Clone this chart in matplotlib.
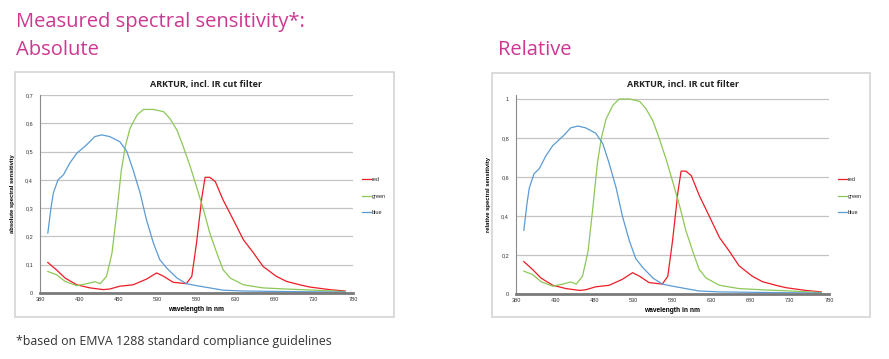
import matplotlib
matplotlib.use("Agg")
import matplotlib.pyplot as plt
from matplotlib.patches import Rectangle
import numpy as np

# ---------------- data (absolute spectral sensitivity) ----------------
blue_wl = [390, 394, 397, 403, 410, 418, 427, 440, 450, 459, 469, 482, 491, 499,
           508, 516, 525, 533, 542, 555, 567, 580, 597, 614, 640, 700, 770]
blue_abs = [0.212, 0.300, 0.353, 0.400, 0.418, 0.459, 0.494, 0.525, 0.553, 0.559,
            0.553, 0.535, 0.500, 0.435, 0.353, 0.259, 0.176, 0.118, 0.088, 0.053,
            0.033, 0.026, 0.018, 0.010, 0.007, 0.005, 0.003]

green_wl = [390, 401, 412, 427, 440, 450, 457, 465, 472, 478, 484, 489, 495, 504,
            512, 525, 538, 546, 555, 563, 572, 580, 589, 597, 606, 614, 623, 640,
            665, 695, 730, 770]
green_abs = [0.076, 0.065, 0.041, 0.026, 0.033, 0.040, 0.033, 0.059, 0.141, 0.282,
             0.435, 0.518, 0.582, 0.629, 0.649, 0.649, 0.641, 0.617, 0.576, 0.518,
             0.447, 0.376, 0.294, 0.212, 0.141, 0.082, 0.053, 0.029, 0.018, 0.014,
             0.010, 0.005]

red_wl = [390, 401, 412, 427, 444, 461, 469, 482, 499, 516, 529, 538, 550, 567,
          574, 580, 587, 591, 597, 604, 614, 627, 640, 653, 665, 682, 695, 712,
          725, 750, 770]
red_abs = [0.108, 0.082, 0.053, 0.029, 0.018, 0.012, 0.014, 0.024, 0.029, 0.049,
           0.071, 0.059, 0.038, 0.033, 0.059, 0.176, 0.341, 0.409, 0.409, 0.394,
           0.329, 0.259, 0.188, 0.141, 0.094, 0.059, 0.041, 0.029, 0.021, 0.012,
           0.007]

series_names = ["red", "green", "blue"]
series_colors = ["#ee1c25", "#8cc857", "#5b9bd5"]

x_ticks = [380, 430, 480, 530, 580, 630, 680, 730, 780]
abs_yticks = [0, 0.1, 0.2, 0.3, 0.4, 0.5, 0.6, 0.7]
abs_ylabels = ["0", "0,1", "0,2", "0,3", "0,4", "0,5", "0,6", "0,7"]
rel_yticks = [0, 0.2, 0.4, 0.6, 0.8, 1.0]
rel_ylabels = ["0", "0,2", "0,4", "0,6", "0,8", "1"]

# relative = normalised to the green maximum
peak = max(green_abs)
red_rel = [v / peak for v in red_abs]
green_rel = [v / peak for v in green_abs]
blue_rel = [v / peak for v in blue_abs]

W, H = 889, 359
fig = plt.figure(figsize=(W / 100, H / 100), dpi=100)
fig.patch.set_facecolor("white")

def fx(x):
    return x / W

def fy(y):
    return 1 - y / H

pink = "#cd3791"
head_font = ["Open Sans", "DejaVu Sans"]
fig.text(fx(16), fy(27), "Measured spectral sensitivity*:", color=pink, fontsize=14.5,
         family=head_font, va="baseline", ha="left")
fig.text(fx(16), fy(55), "Absolute", color=pink, fontsize=14.5,
         family=head_font, va="baseline", ha="left")
fig.text(fx(498), fy(55), "Relative", color=pink, fontsize=14.5,
         family=head_font, va="baseline", ha="left")
fig.text(fx(16), fy(341), "*based on EMVA 1288 standard compliance guidelines",
         color="#333333", fontsize=8.9, family=head_font, va="center", ha="left")

# chart frames
for (x0, y0, x1, y1) in [(15, 72, 394, 317), (492, 73, 870, 317)]:
    fig.patches.append(Rectangle((fx(x0), fy(y1)), fx(x1) - fx(x0), fy(y0) - fy(y1),
                                 transform=fig.transFigure, fill=False,
                                 edgecolor="#d4d4d4", lw=1.2))

tick_font = ["Liberation Sans", "DejaVu Sans"]

def make_chart(ax_rect, series, yticks, ylabels, ylim, ylabel, title_x, legend_x):
    ax = fig.add_axes(ax_rect)
    for (wl, vals), name, col in zip(series, series_names, series_colors):
        ax.plot(wl, vals, color=col, lw=0.9, label=name)
    ax.set_xlim(380, 780)
    ax.set_ylim(*ylim)
    ax.set_xticks(x_ticks)
    ax.set_xticklabels([str(t) for t in x_ticks])
    ax.set_yticks(yticks)
    ax.set_yticklabels(ylabels)
    ax.tick_params(length=0, labelsize=4, colors="#333333")
    ax.tick_params(axis="y", pad=5)
    ax.tick_params(axis="x", pad=3)
    for lab in ax.get_xticklabels() + ax.get_yticklabels():
        lab.set_family(tick_font)
    ax.grid(axis="y", color="#c4c4c4", lw=0.9)
    ax.set_axisbelow(True)
    for s in ["top", "right"]:
        ax.spines[s].set_visible(False)
    ax.spines["left"].set_color("#8a8a8a")
    ax.spines["left"].set_linewidth(0.8)
    ax.spines["bottom"].set_color("#7a7a7a")
    ax.spines["bottom"].set_linewidth(2)
    ax.set_ylabel(ylabel, fontsize=4.2, fontweight="bold", family=tick_font, labelpad=7)
    ax.set_xlabel("wavelength in nm", fontsize=4.8, fontweight="bold", family=tick_font,
                  labelpad=3)
    fig.text(fx(title_x), fy(85), "ARKTUR, incl. IR cut filter", fontsize=6.5,
             fontweight="bold", family=["Open Sans", "DejaVu Sans"], color="#222222",
             ha="center", va="center")
    leg = ax.legend(loc="center left", bbox_to_anchor=(fx(legend_x), fy(196)),
                    bbox_transform=fig.transFigure, frameon=False, fontsize=4,
                    handlelength=1.6, handletextpad=0.2, labelspacing=2.0,
                    borderpad=0, borderaxespad=0)
    for t in leg.get_texts():
        t.set_family(tick_font)
        t.set_color("#222222")
    return ax

make_chart([fx(40), fy(293), fx(353) - fx(40), fy(95) - fy(293)],
           [(red_wl, red_abs), (green_wl, green_abs), (blue_wl, blue_abs)],
           abs_yticks, abs_ylabels, (0, 0.7), "absolute spectral sensitivity",
           206, 362)

make_chart([fx(516), fy(294), fx(829) - fx(516), fy(95) - fy(294)],
           [(red_wl, red_rel), (green_wl, green_rel), (blue_wl, blue_rel)],
           rel_yticks, rel_ylabels, (0, 1.0205), "relative spectral sensitivity",
           683, 838)

fig.savefig("out.png", dpi=100)
